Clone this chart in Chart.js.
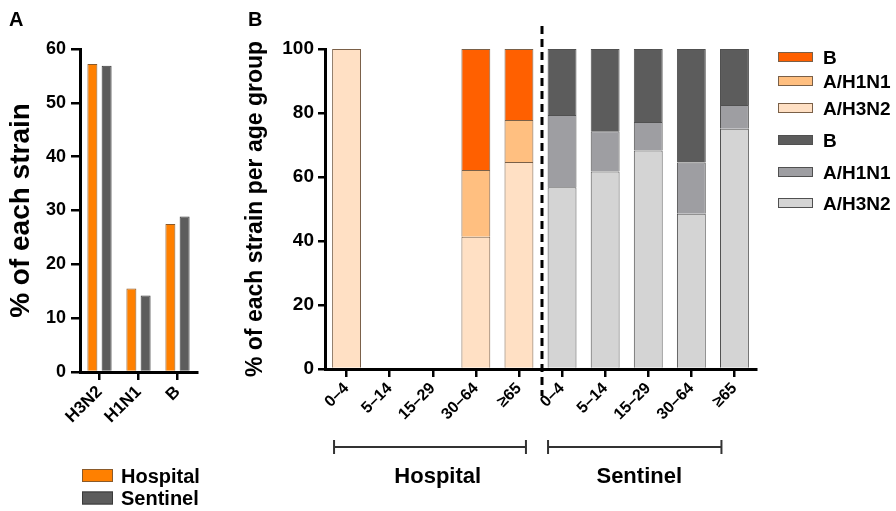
<!DOCTYPE html>
<html><head><meta charset="utf-8">
<script src="https://cdn.jsdelivr.net/npm/chart.js@4"></script>
<style>
html,body{margin:0;padding:0;background:#fff;width:896px;height:511px;overflow:hidden}
#wa{position:absolute;left:0;top:0;width:240px;height:511px}
#wb{position:absolute;left:230px;top:0;width:666px;height:511px}
</style></head><body>
<div id="wa"><canvas id="ca"></canvas></div>
<div id="wb"><canvas id="cb"></canvas></div>
<script>
// ---- Panel A data ----
const strainLabels = ['H3N2', 'H1N1', 'B'];
const hospitalShare = [57.2, 15.5, 27.5];
const sentinelShare = [56.9, 14.2, 28.9];
const yTicksA = [0, 10, 20, 30, 40, 50, 60];

// ---- Panel B data ----
const ageGroups = ['0–4', '5–14', '15–29', '30–64', '≥65', '0–4', '5–14', '15–29', '30–64', '≥65'];
const hospH3N2 = [100, null, null, 41.3, 64.7, null, null, null, null, null];
const hospH1N1 = [null, null, null, 20.9, 13.1, null, null, null, null, null];
const hospB    = [null, null, null, 37.8, 22.2, null, null, null, null, null];
const sentH3N2 = [null, null, null, null, null, 56.8, 61.7, 68.3, 48.5, 75.1];
const sentH1N1 = [null, null, null, null, null, 22.6, 12.6, 8.9, 16.0, 7.4];
const sentB    = [null, null, null, null, null, 20.6, 25.7, 22.8, 35.5, 17.5];
const yTicksB = [0, 20, 40, 60, 80, 100];
const groupNames = ['Hospital', 'Sentinel'];

const FONT = "'Liberation Sans', Arial, Helvetica, sans-serif";
Chart.defaults.font.family = FONT;
Chart.defaults.font.weight = 'bold';
Chart.defaults.color = '#000';

// ---------- Panel A ----------
const pluginA = {
  id: 'pa',
  afterDraw(chart) {
    const ctx = chart.ctx;
    ctx.save();
    ctx.fillStyle = '#000';
    ctx.font = 'bold 20px ' + FONT;
    ctx.textBaseline = 'alphabetic';
    ctx.textAlign = 'left';
    ctx.fillText('A', 9, 26);
    const items = chart.data.datasets;
    const ys = [475.5, 498];
    items.forEach((ds, i) => {
      ctx.fillStyle = ds.backgroundColor;
      ctx.fillRect(82, ys[i] - 6.5, 31, 13);
      ctx.strokeStyle = ds.borderColor;
      ctx.lineWidth = 1;
      ctx.strokeRect(82.5, ys[i] - 6, 30, 12);
      ctx.fillStyle = '#000';
      ctx.font = 'bold 20px ' + FONT;
      ctx.fillText(ds.label, 121, ys[i] + 7);
    });
    ctx.restore();
  }
};

new Chart(document.getElementById('ca'), {
  type: 'bar',
  data: {
    labels: strainLabels,
    datasets: [
      { label: 'Hospital', data: hospitalShare, backgroundColor: '#FF8000', borderColor: '#8a5a2a', borderWidth: 1, categoryPercentage: 0.73, barPercentage: 0.7 },
      { label: 'Sentinel', data: sentinelShare, backgroundColor: '#5C5C5C', borderColor: '#3a3a3a', borderWidth: 1, categoryPercentage: 0.73, barPercentage: 0.7 }
    ]
  },
  options: {
    responsive: true, maintainAspectRatio: false, animation: false,
    layout: { padding: { left: 4, right: 43, top: 49, bottom: 0 } },
    plugins: { legend: { display: false }, tooltip: { enabled: false } },
    scales: {
      x: {
        grid: { offset: false, drawOnChartArea: false, tickLength: 8, lineWidth: 2.5, color: '#000' },
        border: { width: 3, color: '#000' },
        ticks: { maxRotation: 45, minRotation: 45, font: { size: 17, weight: 'bold' }, color: '#000', padding: 2 },
        afterFit: s => { s.height = 139; }
      },
      y: {
        min: 0, max: 60,
        afterBuildTicks: s => { s.ticks = yTicksA.map(v => ({ value: v })); },
        ticks: { font: { size: 18, weight: 'bold' }, color: '#000', padding: 5 },
        grid: { drawOnChartArea: false, tickLength: 9, lineWidth: 2.5, color: '#000' },
        border: { width: 3, color: '#000' },
        title: { display: true, text: '% of each strain', font: { size: 28, weight: 'bold' }, color: '#000', padding: { top: 0, bottom: 2 } },
        afterFit: s => { s.width = 76; }
      }
    }
  },
  plugins: [pluginA]
});

// ---------- Panel B ----------
const pluginB = {
  id: 'pb',
  afterDraw(chart) {
    const ctx = chart.ctx;
    const x = chart.scales.x;
    const px = i => x.getPixelForValue(i);
    ctx.save();
    ctx.fillStyle = '#000';
    ctx.font = 'bold 20px ' + FONT;
    ctx.textBaseline = 'alphabetic';
    ctx.textAlign = 'left';
    ctx.fillText('B', 18, 26);

    // dashed separator
    const dx = (px(4) + px(5)) / 2 + 1.5;
    ctx.strokeStyle = '#000';
    ctx.lineWidth = 3;
    ctx.setLineDash([8, 5]);
    ctx.beginPath();
    ctx.moveTo(dx, 26);
    ctx.lineTo(dx, 396);
    ctx.stroke();
    ctx.setLineDash([]);

    // brackets
    const by = 447;
    const brackets = [[px(0) - 12.5, px(4) + 7], [px(5) - 14, px(9) - 13]];
    ctx.strokeStyle = '#333';
    ctx.lineWidth = 2;
    brackets.forEach(([a, b]) => {
      ctx.beginPath();
      ctx.moveTo(a, by); ctx.lineTo(b, by);
      ctx.moveTo(a, by - 7); ctx.lineTo(a, by + 7);
      ctx.moveTo(b, by - 7); ctx.lineTo(b, by + 7);
      ctx.stroke();
    });
    ctx.fillStyle = '#000';
    ctx.font = 'bold 22px ' + FONT;
    ctx.textAlign = 'center';
    ctx.fillText(groupNames[0], px(2) + 5, 483);
    ctx.fillText(groupNames[1], px(7) - 9, 483);

    // legend
    const order = [2, 1, 0, 5, 4, 3];
    const ly = [57, 81, 108, 140, 172, 203];
    ctx.textAlign = 'left';
    order.forEach((di, k) => {
      const ds = chart.data.datasets[di];
      ctx.fillStyle = ds.backgroundColor;
      ctx.fillRect(548, ly[k] - 5, 35, 10);
      ctx.strokeStyle = ds.borderColor;
      ctx.lineWidth = 1;
      ctx.strokeRect(548.5, ly[k] - 4.5, 34, 9);
      ctx.fillStyle = '#000';
      ctx.font = 'bold 19px ' + FONT;
      ctx.fillText(ds.label, 593, ly[k] + 7);
    });
    ctx.restore();
  }
};

const hb = '#7a6048', sb = '#505050';
const common = { borderWidth: 1, barPercentage: 0.67, categoryPercentage: 1 };
new Chart(document.getElementById('cb'), {
  type: 'bar',
  data: {
    labels: ageGroups,
    datasets: [
      Object.assign({ label: 'A/H3N2', data: hospH3N2, backgroundColor: '#FFE0C4', borderColor: hb }, common),
      Object.assign({ label: 'A/H1N1', data: hospH1N1, backgroundColor: '#FFBF80', borderColor: hb }, common),
      Object.assign({ label: 'B', data: hospB, backgroundColor: '#FF6000', borderColor: hb }, common),
      Object.assign({ label: 'A/H3N2', data: sentH3N2, backgroundColor: '#D4D4D4', borderColor: sb }, common),
      Object.assign({ label: 'A/H1N1', data: sentH1N1, backgroundColor: '#9E9EA2', borderColor: sb }, common),
      Object.assign({ label: 'B', data: sentB, backgroundColor: '#5C5C5C', borderColor: sb }, common)
    ]
  },
  options: {
    responsive: true, maintainAspectRatio: false, animation: false,
    layout: { padding: { left: 12, right: 140, top: 49, bottom: 0 } },
    plugins: { legend: { display: false }, tooltip: { enabled: false } },
    scales: {
      x: {
        stacked: true,
        grid: { offset: false, drawOnChartArea: false, tickLength: 8, lineWidth: 2.5, color: '#000' },
        border: { width: 3, color: '#000' },
        ticks: { maxRotation: 45, minRotation: 45, autoSkip: false, font: { size: 16, weight: 'bold' }, color: '#000', padding: 2 },
        afterFit: s => { s.height = 142; }
      },
      y: {
        stacked: true, min: 0, max: 100,
        afterBuildTicks: s => { s.ticks = yTicksB.map(v => ({ value: v })); },
        ticks: { font: { size: 19, weight: 'bold' }, color: '#000', padding: 4 },
        grid: { drawOnChartArea: false, tickLength: 7, lineWidth: 2.5, color: '#000' },
        border: { width: 3, color: '#000' },
        title: { display: true, text: '% of each strain per age group', font: { size: 23, weight: 'bold' }, color: '#000', padding: { top: 0, bottom: 2 } },
        afterFit: s => { s.width = 83; }
      }
    }
  },
  plugins: [pluginB]
});
</script>
</body></html>
